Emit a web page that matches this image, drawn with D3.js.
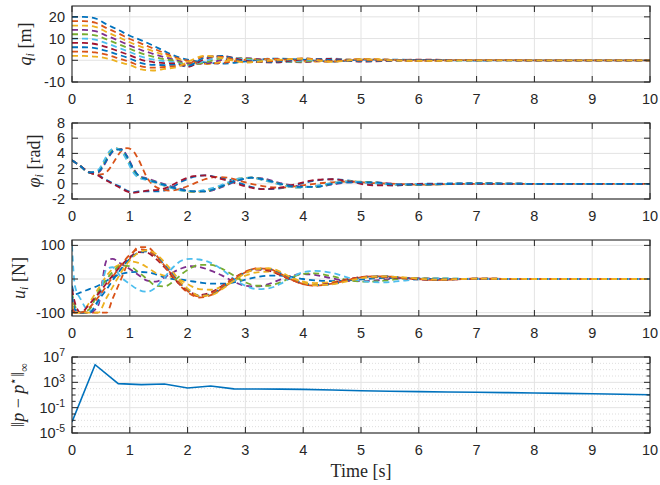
<!DOCTYPE html>
<html><head><meta charset="utf-8">
<script src="https://d3js.org/d3.v7.min.js"></script>
<style>
  body { margin: 0; background: #fff; }
  text { font-family: "Liberation Sans", Arial, sans-serif; fill: #262626; }
  text.tick { font-size: 14.5px; }
  text.math { font-family: "Liberation Serif", "DejaVu Serif", serif; font-size: 18px; }
</style>
</head>
<body>
<svg id="fig" width="660" height="485"></svg>
<script>
// MATLAB default colour order
const colors = ["#0072BD", "#D95319", "#EDB120", "#7E2F8E", "#77AC30", "#4DBEEE", "#A2142F"];
const xTicks = [0, 1, 2, 3, 4, 5, 6, 7, 8, 9, 10];

// --- q_i [m] ---
const qTime = [0, 0.2, 0.4, 0.6, 0.8, 1.0, 1.2, 1.4, 1.6, 1.8, 2.0, 2.3, 2.6, 3.0, 3.5, 4.0, 4.5, 5.0, 6, 7, 8, 10];
const qSeries = [
  [20, 20, 19.3, 16.5, 14, 11.3, 9.2, 6.8, 4.2, 1.8, 0.3, -1.0, -1.5, -0.5, 0.8, 0.3, -0.6, 0.3, 0.2, -0.1, 0, 0],
  [18, 18, 17.3, 14.8, 12.4, 9.8, 7.7, 5.5, 3.3, 1.2, -0.2, -1.5, -1.2, 0.2, 0.6, -0.3, -0.6, 0.6, -0.1, 0.1, 0, 0],
  [16, 16, 15.4, 13.0, 10.7, 8.3, 6.2, 4.2, 2.4, 0.7, -0.8, -1.8, -0.6, 0.8, 0.1, -0.8, -0.2, 0.6, -0.3, 0.2, 0, 0],
  [14, 14, 13.4, 11.3, 9.1, 6.8, 4.7, 3.0, 1.4, 0.1, -1.4, -1.5, 0.2, 1.0, -0.4, -0.9, 0.3, 0.3, -0.3, 0.1, 0, 0],
  [12, 12, 11.5, 9.6, 7.5, 5.3, 3.2, 1.7, 0.5, -0.4, -2.0, -1.0, 0.9, 0.8, -0.8, -0.6, 0.7, -0.2, -0.1, -0.1, 0, 0],
  [10, 10, 9.5, 7.8, 5.8, 3.8, 1.7, 0.4, -0.4, -1.0, -2.6, -0.2, 1.5, 0.4, -1.0, -0.1, 0.8, -0.5, 0.2, -0.1, 0, 0],
  [8, 8, 7.5, 6.1, 4.2, 2.3, 0.2, -0.8, -1.3, -1.5, -3.0, 0.6, 1.9, -0.2, -1.0, 0.4, 0.6, -0.6, 0.3, 0, 0, 0],
  [6, 6, 5.6, 4.3, 2.6, 0.8, -1.3, -2.1, -2.2, -2.1, -2.6, 1.3, 2.0, -0.6, -0.7, 0.8, 0.1, -0.4, 0.2, 0.1, 0, 0],
  [4, 4, 3.6, 2.6, 0.9, -0.7, -2.8, -3.4, -3.1, -2.7, -1.8, 1.8, 1.6, -0.9, -0.3, 0.9, -0.4, 0, -0.1, 0.1, 0, 0],
  [2, 2, 1.7, 0.9, -0.7, -2.2, -4.2, -4.7, -4.0, -3.2, -0.8, 2.1, 1.0, -1.0, 0.1, 0.7, -0.7, 0.4, -0.3, 0, 0, 0]
];
const qTicks = [-10, 0, 10, 20];

// --- phi_i [rad] ---
const phTime = [0, 0.15, 0.3, 0.45, 0.55, 0.65, 0.75, 0.85, 0.95, 1.05, 1.15, 1.3, 1.5, 1.7, 1.9, 2.1, 2.3, 2.5, 2.7, 2.9, 3.1, 3.3, 3.6, 3.9, 4.2, 4.5, 4.8, 5.2, 5.6, 6, 7, 8, 10];
const phSeries = [
  [3.1, 2.3, 1.5, 1.2, 0.7, 0.3, -0.1, -0.4, -0.9, -1.1, -1.0, -1.0, -1.0, -0.6, 0.3, 0.9, 1.1, 0.9, 0.6, 0.1, -0.4, -0.7, -0.6, -0.1, 0.4, 0.6, 0.4, -0.1, -0.2, 0, 0.05, 0, 0],
  [3.1, 2.3, 1.5, 1.2, 1.3, 2.0, 3.2, 4.3, 4.7, 4.4, 3.2, 0.8, -0.6, -0.9, -0.6, 0.0, 0.6, 0.9, 0.8, 0.4, 0.0, -0.3, -0.5, -0.3, 0.0, 0.2, 0.3, 0.1, 0, -0.1, 0, 0, 0],
  [3.1, 2.3, 1.5, 1.7, 2.8, 4.1, 4.7, 4.4, 3.3, 1.8, 0.9, 0.5, 0.0, -0.5, -0.9, -1.1, -0.9, -0.5, 0.1, 0.7, 0.8, 0.5, -0.1, -0.5, -0.3, 0.1, 0.3, 0.1, -0.1, -0.1, 0, 0, 0],
  [3.1, 2.3, 1.5, 1.5, 2.4, 3.7, 4.5, 4.6, 3.7, 2.2, 1.1, 0.7, 0.2, -0.3, -0.7, -1.0, -1.0, -0.7, -0.1, 0.5, 0.8, 0.7, 0.1, -0.3, -0.4, -0.1, 0.2, 0.2, 0.0, -0.1, 0.05, 0, 0],
  [3.1, 2.3, 1.5, 1.6, 2.6, 3.9, 4.6, 4.5, 3.5, 2.0, 1.0, 0.6, 0.1, -0.4, -0.8, -1.0, -1.0, -0.6, 0.0, 0.6, 0.8, 0.6, 0.0, -0.4, -0.4, 0.0, 0.3, 0.2, -0.1, -0.1, 0.05, 0, 0],
  [3.1, 2.3, 1.5, 1.8, 3.0, 4.3, 4.7, 4.3, 3.1, 1.6, 0.8, 0.5, 0.0, -0.5, -0.9, -1.0, -0.8, -0.4, 0.2, 0.7, 0.8, 0.5, -0.1, -0.5, -0.3, 0.1, 0.3, 0.1, -0.1, 0, 0, 0, 0],
  [3.1, 2.3, 1.5, 1.1, 0.6, 0.2, -0.2, -0.6, -1.0, -1.2, -1.1, -0.9, -0.8, -0.3, 0.5, 1.0, 1.1, 0.8, 0.4, -0.1, -0.5, -0.7, -0.5, 0.0, 0.5, 0.6, 0.3, -0.2, -0.2, 0, 0, 0, 0],
  [3.1, 2.3, 1.5, 1.6, 2.5, 3.8, 4.5, 4.5, 3.6, 2.1, 1.1, 0.6, 0.1, -0.4, -0.8, -1.0, -1.0, -0.6, 0.0, 0.5, 0.8, 0.6, 0.0, -0.4, -0.4, 0.0, 0.2, 0.2, -0.1, -0.1, 0.05, 0, 0]
];
const phTicks = [-2, 0, 2, 4, 6, 8];

// --- u_i [N] ---
const uTime = [0, 0.05, 0.15, 0.3, 0.45, 0.6, 0.7, 0.85, 1.0, 1.15, 1.3, 1.45, 1.6, 1.75, 1.9, 2.05, 2.2, 2.4, 2.6, 2.8, 3.0, 3.2, 3.4, 3.6, 3.8, 4.0, 4.2, 4.5, 4.8, 5.1, 5.4, 5.8, 6.3, 7, 8, 10];
const uSeries = [
  [-20, -45, -40, -30, -20, -5, 5, 15, 20, 21, 20, 14, 5, 0, -2, -6, -10, -14, -14, -10, -2, 6, 10, 10, 6, 0, -4, -6, -4, 0, 3, 2, 0, 0, 0, 0],
  [-100, -100, -100, -100, -100, -100, -60, 0, 60, 95, 95, 72, 40, 8, -25, -45, -55, -48, -28, -3, 20, 32, 30, 16, -2, -15, -20, -14, -2, 7, 8, 2, -3, 1, 0, 0],
  [-80, -100, -100, -70, -30, 10, 30, 45, 52, 48, 35, 18, 10, 5, -5, -20, -30, -32, -22, -5, 10, 20, 22, 14, 2, -8, -12, -9, -1, 5, 5, 1, -1, 0, 0, 0],
  [-60, -100, -100, -100, -80, 55, 60, 45, 30, 12, -5, -8, 5, 20, 32, 38, 36, 25, 10, -8, -20, -22, -15, -2, 10, 15, 12, 2, -6, -6, -2, 3, 1, 0, 0, 0],
  [-40, -80, -100, -90, -40, 0, 20, 40, 38, 20, 0, -20, -22, -8, 15, 32, 42, 42, 30, 10, -10, -20, -20, -10, 5, 15, 17, 8, -4, -8, -5, 2, 2, 0, 0, 0],
  [100, -20, -60, -95, -70, 30, 35, 5, -15, -32, -38, -25, 5, 35, 55, 60, 58, 48, 28, 0, -20, -30, -28, -15, 5, 20, 24, 18, 3, -8, -10, -4, 2, 0, 0, 0],
  [-30, -70, -100, -75, -45, -12, 10, 40, 65, 80, 78, 60, 35, 5, -22, -40, -48, -40, -20, 3, 20, 28, 25, 12, -3, -14, -18, -12, 0, 7, 7, 1, -3, 1, 0, 0],
  [-50, -90, -100, -100, -65, -30, -5, 30, 60, 78, 82, 68, 42, 12, -18, -38, -50, -45, -25, 0, 20, 30, 30, 18, 0, -12, -18, -15, -3, 6, 8, 3, -2, 1, 0, 0],
  [-90, -100, -100, -85, -55, -20, 5, 42, 72, 88, 86, 66, 38, 8, -20, -42, -52, -44, -22, 2, 22, 31, 28, 14, -2, -15, -19, -13, -1, 7, 7, 2, -2, 1, 0, 0],
  [-70, -100, -100, -100, -100, -55, -25, 20, 55, 78, 85, 75, 50, 20, -12, -35, -50, -48, -30, -5, 17, 30, 32, 22, 4, -10, -18, -16, -5, 5, 8, 4, -2, 1, 0, 0]
];
const uTicks = [-100, 0, 100];

// --- ||p - p*||_inf (log) ---
const pTime = [0, 0.4, 0.8, 1.2, 1.6, 2.0, 2.4, 2.8, 3.2, 3.6, 4.0, 4.5, 5.0, 5.5, 6.0, 6.5, 7.0, 7.5, 8.0, 8.5, 9.0, 9.5, 10];
const pErr = [5.6e-4, 6.0e5, 630, 440, 560, 130, 270, 92, 90, 86, 78, 60, 48, 40, 34, 30, 27, 24, 21, 18, 16, 13, 11];
const pTicks = [1e-5, 1e-1, 1e3, 1e7];
const pMinor = [1e-4, 1e-3, 1e-2, 1, 10, 100, 1e4, 1e5, 1e6];

const svg = d3.select("#fig");
const left = 72, right = 650, H = 76;
const tops = [6, 123, 240, 357];
const x = d3.scaleLinear().domain([0, 10]).range([left, right]);
const tickLen = 6;

function drawPanel(k, y, yTicks, opts) {
  const top = tops[k], bot = top + H;
  const g = svg.append("g");

  // grid
  if (opts.minor) {
    g.selectAll("line.mgrid").data(opts.minor).join("line")
      .attr("x1", left).attr("x2", right)
      .attr("y1", d => y(d)).attr("y2", d => y(d))
      .attr("stroke", "#d4d4d4").attr("stroke-width", 0.8).attr("stroke-dasharray", "1,2");
  }
  g.selectAll("line.gx").data(xTicks.slice(1, -1)).join("line")
    .attr("x1", d => x(d)).attr("x2", d => x(d))
    .attr("y1", top).attr("y2", bot)
    .attr("stroke", "#e3e3e3").attr("stroke-width", 1);
  g.selectAll("line.gy").data(yTicks).join("line")
    .attr("x1", left).attr("x2", right)
    .attr("y1", d => y(d)).attr("y2", d => y(d))
    .attr("stroke", "#e3e3e3").attr("stroke-width", 1);

  // data
  const clipId = "clip" + k;
  svg.append("clipPath").attr("id", clipId)
    .append("rect").attr("x", left).attr("y", top).attr("width", right - left).attr("height", H);
  const lay = g.append("g").attr("clip-path", `url(#${clipId})`);
  const line = d3.line()
    .x((d, i) => x(opts.time[i]))
    .y(d => y(d))
    .curve(opts.curve || d3.curveMonotoneX);
  lay.selectAll("path").data(opts.series).join("path")
    .attr("d", d => line(d))
    .attr("fill", "none")
    .attr("stroke", (d, i) => colors[i % colors.length])
    .attr("stroke-width", opts.width || 1.8)
    .attr("stroke-dasharray", opts.dash || null);

  // box and ticks
  g.append("rect").attr("x", left).attr("y", top).attr("width", right - left).attr("height", H)
    .attr("fill", "none").attr("stroke", "#262626").attr("stroke-width", 1.1);
  xTicks.forEach(t => {
    g.append("line").attr("x1", x(t)).attr("x2", x(t)).attr("y1", bot).attr("y2", bot - tickLen)
      .attr("stroke", "#262626");
    g.append("line").attr("x1", x(t)).attr("x2", x(t)).attr("y1", top).attr("y2", top + tickLen)
      .attr("stroke", "#262626");
  });
  const yAll = yTicks.map(d => ({ v: d, len: tickLen })).concat((opts.minor || []).map(d => ({ v: d, len: 3.5 })));
  yAll.forEach(t => {
    g.append("line").attr("x1", left).attr("x2", left + t.len).attr("y1", y(t.v)).attr("y2", y(t.v))
      .attr("stroke", "#262626");
    g.append("line").attr("x1", right).attr("x2", right - t.len).attr("y1", y(t.v)).attr("y2", y(t.v))
      .attr("stroke", "#262626");
  });

  // tick labels
  g.selectAll("text.xl").data(xTicks).join("text")
    .attr("class", "tick").attr("x", d => x(d)).attr("y", bot + 22)
    .attr("text-anchor", "middle").text(d => d);
  yTicks.forEach(d => {
    const t = g.append("text").attr("class", "tick")
      .attr("x", 65).attr("y", y(d)).attr("dy", "0.35em").attr("text-anchor", "end");
    if (opts.log) {
      t.append("tspan").text("10");
      t.append("tspan").attr("dy", "-0.55em").attr("font-size", "10.5px").text(Math.round(Math.log10(d)));
    } else {
      t.text(d);
    }
  });

  // y label
  const lab = g.append("text").attr("class", "math")
    .attr("transform", `translate(${opts.labelX},${top + H / 2}) rotate(-90)`)
    .attr("text-anchor", "middle");
  opts.label(lab);
}

function sub(t, s) {
  t.append("tspan").attr("font-size", "12px").attr("font-style", "italic").attr("dy", "3").text(s);
}

drawPanel(0, d3.scaleLinear().domain([-10, 25]).range([tops[0] + H, tops[0]]), qTicks, {
  time: qTime, series: qSeries, dash: "6,4", labelX: 31,
  label: t => {
    t.append("tspan").attr("font-style", "italic").text("q");
    sub(t, "i");
    t.append("tspan").attr("dy", "-3").text(" [m]");
  }
});

drawPanel(1, d3.scaleLinear().domain([-2, 8]).range([tops[1] + H, tops[1]]), phTicks, {
  time: phTime, series: phSeries, dash: "6,4", labelX: 40,
  label: t => {
    t.append("tspan").attr("font-style", "italic").text("φ");
    sub(t, "i");
    t.append("tspan").attr("dy", "-3").text(" [rad]");
  }
});

drawPanel(2, d3.scaleLinear().domain([-110, 116]).range([tops[2] + H, tops[2]]), uTicks, {
  time: uTime, series: uSeries, dash: "6,4", labelX: 25,
  label: t => {
    t.append("tspan").attr("font-style", "italic").text("u");
    sub(t, "i");
    t.append("tspan").attr("dy", "-3").text(" [N]");
  }
});

drawPanel(3, d3.scaleLog().domain([1e-5, 1e7]).range([tops[3] + H, tops[3]]), pTicks, {
  time: pTime, series: [pErr], width: 1.6, curve: d3.curveLinear, log: true, minor: pMinor, labelX: 24,
  label: t => {
    t.append("tspan").text("‖");
    t.append("tspan").attr("font-style", "italic").text("p");
    t.append("tspan").text(" − ");
    t.append("tspan").attr("font-style", "italic").text("p");
    t.append("tspan").attr("font-size", "12px").attr("dy", "-7").text("⋆");
    t.append("tspan").attr("dy", "7").text("‖");
    t.append("tspan").attr("font-size", "12px").attr("dy", "4").text("∞");
  }
});

svg.append("text").attr("class", "math")
  .attr("x", (left + right) / 2).attr("y", 477).attr("text-anchor", "middle")
  .text("Time [s]");
</script>
</body>
</html>
